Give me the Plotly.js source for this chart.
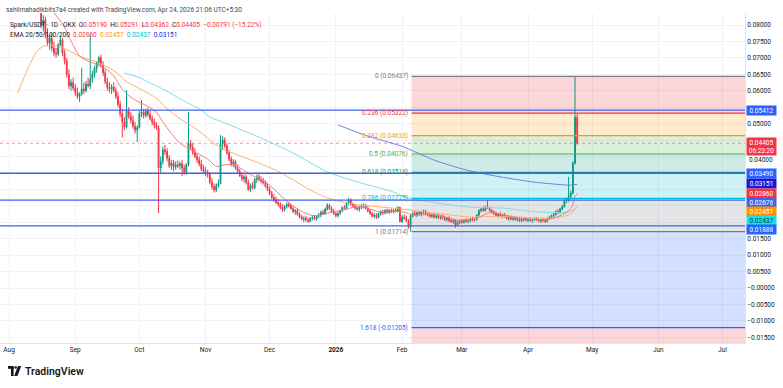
<!DOCTYPE html>
<html><head><meta charset="utf-8">
<script src="https://cdn.plot.ly/plotly-3.0.1.min.js"></script>
<style>html,body{margin:0;padding:0;background:#fff;}#chart{width:783px;height:388px;}</style>
</head><body><div id="chart"></div>
<script>
// ---------------- DATA (prices in 1e-4 USDT) ----------------
const firstDay = '2025-07-26';
const O = [
 880,905,945,935,960,990,
 965,950,975,955,925,945,930,910,925,905,890,880,870,860,850,845,800,815,770,745,760,730,715,712,740,755,715,690,650,615,625,
 608,595,582,590,605,600,620,615,635,650,668,685,700,678,655,628,610,605,612,600,582,558,530,505,490,541,522,510,492,480,
 488,530,535,525,538,528,515,505,495,488,365,385,420,415,395,372,380,368,375,372,378,365,352,375,440,428,412,400,390,378,362,
 355,350,345,322,308,298,312,318,440,450,432,412,392,378,385,365,355,342,332,338,322,300,312,305,330,338,330,325,320,310,
 300,288,275,268,260,255,245,238,248,255,250,242,232,236,224,216,210,212,206,203,212,215,210,218,222,230,226,240,252,242,232,
 226,220,228,235,245,242,258,268,255,250,244,240,246,250,252,242,234,226,218,222,215,226,232,228,236,230,236,232,237,234,245,
 202,215,212,204,186,220,226,222,229,226,230,233,226,222,218,222,216,220,214,218,212,208,212,205,202,206,192,200,
 203,200,206,202,207,210,208,208,222,236,240,236,246,244,236,230,226,220,224,219,222,217,212,214,210,212,208,210,205,208,210,
 206,209,205,208,211,207,204,208,205,203,212,216,220,224,232,230,240,248,266,268,278,289,380,519
];
const H = [
 920,960,990,970,1010,1020,
 990,985,1000,980,960,970,955,940,950,930,920,905,895,880,870,850,830,825,790,770,775,750,730,745,765,760,725,700,665,635,640,
 620,610,595,670,625,630,640,770,660,675,690,705,710,690,665,640,625,620,625,610,595,570,545,520,602,550,535,525,505,495,
 540,572,545,545,548,540,525,515,505,495,400,430,435,425,405,390,390,385,388,385,390,375,380,535,450,440,425,410,400,390,375,
 368,360,352,335,318,318,330,465,462,458,440,420,400,392,390,375,362,352,345,345,330,318,322,335,345,350,340,335,328,318,
 308,295,285,278,270,262,255,252,260,262,255,248,240,242,230,222,218,220,214,215,220,222,222,228,235,238,245,258,256,248,240,
 232,230,238,248,252,262,275,272,260,256,250,250,255,258,256,248,240,232,228,228,230,236,238,240,242,240,242,240,244,248,248,
 222,224,220,210,224,232,234,232,236,234,238,238,232,228,226,228,224,226,222,224,218,216,218,212,210,210,205,208,
 210,210,212,210,214,216,214,225,240,245,248,250,268,248,240,236,232,228,230,226,228,222,218,220,216,218,214,215,212,213,216,
 212,214,211,214,216,212,210,213,211,214,220,224,228,236,240,244,252,270,274,338,296,385,643.7,529.1
];
const L = [
 860,890,920,900,940,950,
 930,920,940,910,900,915,895,885,895,875,865,855,845,840,838,790,780,760,735,725,720,705,700,705,735,705,680,640,605,600,600,
 585,575,566,585,590,595,610,605,625,640,655,675,670,645,620,600,595,590,595,575,550,520,458,480,485,515,500,485,470,444,
 485,520,515,518,520,510,495,485,480,228,350,375,405,385,365,360,355,360,365,360,340,345,345,370,420,405,395,380,370,355,348,
 340,335,315,300,290,292,305,315,420,425,405,385,370,368,360,350,338,325,320,315,295,292,300,300,320,325,318,315,305,295,
 282,270,262,255,248,240,232,232,242,245,238,228,222,220,212,205,200,202,198,200,205,206,205,212,215,222,222,235,238,228,222,
 215,215,222,230,238,238,252,250,245,238,235,232,240,242,238,230,222,215,212,210,212,220,222,224,226,225,228,226,230,230,200,
 198,208,200,180,171.4,214,218,216,222,218,224,222,218,214,212,212,210,210,208,208,204,202,200,198,195,183,188,194,
 196,196,198,197,200,203,202,205,218,230,232,232,240,232,226,222,216,214,216,212,214,208,204,206,204,205,202,200,200,202,204,
 200,202,199,203,204,200,198,201,198,200,208,210,214,220,225,226,236,244,258,262,272,285,375,436.2
];
const C = [
 905,945,935,960,990,965,
 950,975,955,925,945,930,910,925,905,890,880,870,860,850,845,800,815,770,745,760,730,715,712,740,755,715,690,650,615,625,608,
 595,582,590,605,600,620,615,635,650,668,685,700,678,655,628,610,605,612,600,582,558,530,505,490,541,522,510,492,480,488,
 530,535,525,538,528,515,505,495,488,365,385,420,415,395,372,380,368,375,372,378,365,352,375,440,428,412,400,390,378,362,355,
 350,345,322,308,298,312,318,440,450,432,412,392,378,385,365,355,342,332,338,322,300,312,305,330,338,330,325,320,310,300,
 288,275,268,260,255,245,238,248,255,250,242,232,236,224,216,210,212,206,203,212,215,210,218,222,230,226,240,252,242,232,226,
 220,228,235,245,242,258,268,255,250,244,240,246,250,252,242,234,226,218,222,215,226,232,228,236,230,236,232,237,234,245,202,
 215,212,204,186,220,226,222,229,226,230,233,226,222,218,222,216,220,214,218,212,208,212,205,202,206,192,200,203,
 200,206,202,207,210,208,208,222,236,240,236,246,244,236,230,226,220,224,219,222,217,212,214,210,212,208,210,205,208,210,206,
 209,205,208,211,207,204,208,205,203,212,216,220,224,232,230,240,248,266,268,278,289,380,519.6,440.5
];

// EMA lines (1e-4 units)
const ema20Dates = ['2025-08-14','2025-08-18','2025-08-22','2025-08-26','2025-08-30','2025-09-03','2025-09-07','2025-09-11','2025-09-15','2025-09-19','2025-09-23','2025-09-27','2025-10-01','2025-10-05','2025-10-09','2025-10-12','2025-10-16','2025-10-20','2025-10-24','2025-10-28','2025-11-02','2025-11-06','2025-11-10','2025-11-14','2025-11-18','2025-11-22','2025-11-26','2025-11-30','2025-12-04','2025-12-08','2025-12-12','2025-12-16','2025-12-20','2025-12-24','2025-12-28','2026-01-01','2026-01-05','2026-01-09','2026-01-13','2026-01-17','2026-01-21','2026-01-25','2026-01-29','2026-02-02','2026-02-06','2026-02-10','2026-02-14','2026-02-18','2026-02-22','2026-02-26','2026-03-02','2026-03-06','2026-03-10','2026-03-14','2026-03-18','2026-03-22','2026-03-26','2026-03-30','2026-04-03','2026-04-07','2026-04-11','2026-04-15','2026-04-19','2026-04-21','2026-04-22','2026-04-23','2026-04-24'];
const ema20Vals = [930,889,838,804,751,705,690,680,668,645,605,580,565,552,535,505,470,440,425,410,392,370,375,375,362,345,333,318,295,270,250,233,222,220,228,233,238,245,246,240,232,231,233,231,222,222,224,220,215,208,204,206,218,230,226,221,215,211,208,207,209,217,230,242,255,280,286];
const ema50Dates = ['2025-08-05','2025-08-08','2025-08-11','2025-08-14','2025-08-17','2025-08-20','2025-08-24','2025-08-28','2025-09-01','2025-09-05','2025-09-10','2025-09-15','2025-09-20','2025-09-25','2025-09-30','2025-10-05','2025-10-10','2025-10-13','2025-10-17','2025-10-21','2025-10-25','2025-10-30','2025-11-05','2025-11-10','2025-11-18','2025-11-26','2025-12-04','2025-12-12','2025-12-20','2025-12-28','2026-01-05','2026-01-13','2026-01-21','2026-01-28','2026-02-05','2026-02-12','2026-02-19','2026-02-26','2026-03-05','2026-03-12','2026-03-19','2026-03-26','2026-04-02','2026-04-09','2026-04-15','2026-04-20','2026-04-22','2026-04-23','2026-04-24'];
const ema50Vals = [593,640,684,720,735,739,735,725,712,700,690,675,657,628,610,593,572,551,530,511,495,472,440,420,400,380,358,329,298,274,260,252,247,243,237,231,226,220,216,217,218,216,214,212,215,222,230,242,245.7];
const ema100Dates = ['2025-09-24','2025-10-01','2025-10-05','2025-10-13','2025-10-21','2025-10-30','2025-11-03','2025-11-10','2025-11-26','2025-12-12','2025-12-28','2026-01-13','2026-01-28','2026-02-02','2026-02-17','2026-03-05','2026-03-20','2026-04-06','2026-04-20','2026-04-24'];
const ema100Vals = [654,640,627,602,572,541,520,502,459,411,353,319,292,277,259,246,243,231,231,243.7];
const ema200Dates = ['2026-01-02','2026-01-16','2026-02-01','2026-02-16','2026-03-03','2026-03-19','2026-04-04','2026-04-20','2026-04-24'];
const ema200Vals = [496,462,431,389,359,338,322,313,315.1];

// Fibonacci retracement (Feb 5 low -> Apr 23 high)
const fibRatios = ['0','0.236','0.382','0.5','0.618','0.786','1','1.618','2.618'];
const fibValues = [0.06437,0.05322,0.04633,0.04076,0.03518,0.02725,0.01714,-0.01205,-0.05928];
const fibStart = '2026-02-05 12:00';
// user horizontal levels
const hLevels = [0.05412,0.03490,0.02676,0.01888];
// right-scale price tags
const tagTexts = ['0.05412','0.04405<br>06:23:20','0.03490','0.03151','0.02860','0.02676','0.02457','0.02437','0.01888'];
// axis ticks (labels hidden behind the price tags are left empty)
const yTickVals = [-0.015,-0.01,-0.005,0,0.005,0.01,0.015,0.02,0.025,0.03,0.035,0.04,0.045,0.05,0.055,0.06,0.065,0.07,0.075,0.08];
const yTickText = ['\u22120.01500','\u22120.01000','\u22120.00500','\u22120.00000','0.00500','0.01000','0.01500','','','','','','','0.05000','','0.06000','0.06500','0.07000','0.07500','0.08000'];
const partialTick = '0.04000';
const xTickVals = ['2025-08-01','2025-09-01','2025-10-01','2025-11-01','2025-12-01','2026-01-01','2026-02-01','2026-03-01','2026-04-01','2026-05-01','2026-06-01','2026-07-01'];
const xTickText = ['Aug','Sep','Oct','Nov','Dec','<b>2026</b>','Feb','Mar','Apr','May','Jun','Jul'];

// ---------------- BUILD ----------------
const S = v => v / 10000;
const t0 = Date.parse(firstDay + 'T00:00:00Z');
const dates = O.map((_, i) => new Date(t0 + i * 86400000).toISOString().slice(0, 10));

const UP = '#089981', DN = '#f23645';
const traces = [
  {type:'candlestick', x:dates, open:O.map(S), high:H.map(S), low:L.map(S), close:C.map(S),
   increasing:{line:{color:UP,width:1},fillcolor:UP}, decreasing:{line:{color:DN,width:1},fillcolor:DN},
   whiskerwidth:0, hoverinfo:'none'},
  {type:'scatter', mode:'lines', x:ema100Dates, y:ema100Vals.map(S), line:{color:'#7fdbe8',width:1,shape:'spline',smoothing:0.6}, hoverinfo:'none'},
  {type:'scatter', mode:'lines', x:ema50Dates, y:ema50Vals.map(S), line:{color:'#f9b26a',width:1,shape:'spline',smoothing:0.6}, hoverinfo:'none'},
  {type:'scatter', mode:'lines', x:ema200Dates, y:ema200Vals.map(S), line:{color:'#7b7be6',width:1,shape:'spline',smoothing:0.6}, hoverinfo:'none'},
  {type:'scatter', mode:'lines', x:ema20Dates, y:ema20Vals.map(S), line:{color:'#f47a85',width:1,shape:'spline',smoothing:0.6}, hoverinfo:'none'}
];

const X0 = '2025-07-27 18:00', X1 = '2026-07-11 14:00';
const PL = 0, PT = 13, PW = 745, PH = 330;
const px = x => (x - PL) / PW;
const py = y => 1 - (y - PT) / PH;

const fibLine = ['#787b86','#f23645','#ff9800','#4caf50','#089981','#00bcd4','#787b86','#2962ff','#f23645'];
const fibFill = ['rgba(242,54,69,0.2)','rgba(255,152,0,0.2)','rgba(76,175,80,0.2)','rgba(8,153,129,0.2)','rgba(0,188,212,0.2)','rgba(120,123,134,0.2)','rgba(41,98,255,0.2)','rgba(242,54,69,0.2)'];

const shapes = [];
const annotations = [];
for (let i = 0; i < fibValues.length - 1; i++) {
  shapes.push({type:'rect', layer:'between', xref:'x', yref:'y', x0:fibStart, x1:X1, y0:fibValues[i+1], y1:fibValues[i], fillcolor:fibFill[i], line:{width:0}});
}
for (let i = 0; i < fibValues.length; i++) {
  shapes.push({type:'line', layer:'above', xref:'x', yref:'y', x0:fibStart, x1:X1, y0:fibValues[i], y1:fibValues[i], line:{color:fibLine[i], width:1.2}});
  if (i < fibValues.length - 1) {
    annotations.push({xref:'x', yref:'y', x:fibStart, y:fibValues[i], xanchor:'right', yanchor:'middle', xshift:-2, showarrow:false,
      text: fibRatios[i] + ' (' + fibValues[i].toFixed(5) + ')', font:{size:6.5, color:fibLine[i]}});
  }
}
// last price dotted line
shapes.push({type:'line', layer:'between', xref:'paper', yref:'y', x0:0, x1:1, y0:S(C[C.length-1]), y1:S(C[C.length-1]), line:{color:'rgba(242,54,69,0.55)', width:1, dash:'dot'}});
// horizontal user lines
hLevels.forEach(v => shapes.push({type:'line', layer:'above', xref:'paper', yref:'y', x0:0, x1:1, y0:v, y1:v, line:{color:'#3c64f0', width:1.3}}));

// right tags
const tagColors = ['#2962ff','#f23645','#2962ff','#1a1ad6','#f23645','#3d66ee','#ff8f00','#16e0ee','#2962ff'];
const tagFont = ['#fff','#fff','#fff','#fff','#fff','#fff','#fff','#063c44','#fff'];
const tagY = [110,146.5,173,183.5,193,202.5,211.5,220.5,229.5];
tagTexts.forEach((t, i) => annotations.push({xref:'paper', yref:'paper', x:1, y:py(tagY[i]), xanchor:'left', yanchor:'middle', xshift:1,
  showarrow:false, text:t, bgcolor:tagColors[i], borderpad:0.5, width:28, align:'center', font:{size:6.5, color:tagFont[i]}}));
// 0.04000 scale label peeking below the red tag
annotations.push({xref:'paper', yref:'paper', x:1, y:py(159.5), xanchor:'left', yanchor:'middle', xshift:2, showarrow:false,
  text:partialTick, font:{size:6.5, color:'#131722'}});

// header texts
const hdrFont = {size:6.5, color:'#131722', family:'Roboto, "Liberation Sans", sans-serif'};
annotations.push({xref:'paper', yref:'paper', x:px(4), y:py(10), xanchor:'left', yanchor:'middle', showarrow:false,
  text:'sahilmahadikbits7a4 created with TradingView.com, Apr 24, 2026 21:06 UTC+5:30', font:{size:6.5, color:'#434651'}});
const R = s => '<span style="color:#f23645">' + s + '</span>';
annotations.push({xref:'paper', yref:'paper', x:px(8), y:py(25.5), xanchor:'left', yanchor:'middle', showarrow:false,
  text:'Spark/USDT · 1D · OKX  O' + R('0.05190') + '  H' + R('0.05291') + '  L' + R('0.04362') + '  C' + R('0.04405') + '  ' + R('\u22120.00791 (\u221215.22%)'), font:hdrFont});
annotations.push({xref:'paper', yref:'paper', x:px(8), y:py(34.5), xanchor:'left', yanchor:'middle', showarrow:false,
  text:'EMA 20/50/100/200  <span style="color:#f23645">0.02860</span>  <span style="color:#ff9800">0.02457</span>  <span style="color:#00bcd4">0.02437</span>  <span style="color:#2424d6">0.03151</span>', font:hdrFont});

// TradingView logo
const LOGO = '#131722';
shapes.push({type:'rect', xref:'paper', yref:'paper', x0:px(8), x1:px(13.6), y0:py(368.8), y1:py(366), fillcolor:LOGO, line:{width:0}});
shapes.push({type:'rect', xref:'paper', yref:'paper', x0:px(11), x1:px(13.6), y0:py(376), y1:py(366), fillcolor:LOGO, line:{width:0}});
shapes.push({type:'circle', xref:'paper', yref:'paper', x0:px(14.4), x1:px(17), y0:py(368.8), y1:py(366.2), fillcolor:LOGO, line:{width:0}});
shapes.push({type:'path', xref:'paper', yref:'paper', path:'M '+px(18)+' '+py(366)+' L '+px(21.2)+' '+py(366)+' L '+px(17.4)+' '+py(376)+' L '+px(14.2)+' '+py(376)+' Z', fillcolor:LOGO, line:{width:0}});
annotations.push({xref:'paper', yref:'paper', x:px(22.5), y:py(371), xanchor:'left', yanchor:'middle', showarrow:false,
  text:'TradingView', font:{size:10.5, color:LOGO, family:'Roboto, sans-serif', weight:600}});

const layout = {
  width:783, height:388, margin:{l:PL, r:783-PL-PW, t:PT, b:388-PT-PH},
  paper_bgcolor:'#fff', plot_bgcolor:'#fff', showlegend:false, boxgap:0.45,
  font:{family:'Roboto, "Liberation Sans", sans-serif', size:6.5, color:'#131722'},
  xaxis:{type:'date', range:[X0, X1], rangeslider:{visible:false}, tickvals:xTickVals, ticktext:xTickText,
    showgrid:true, gridcolor:'#f1f2f6', zeroline:false, showline:true, linecolor:'#e0e3eb', ticks:'', fixedrange:true,
    tickfont:{size:6.5, color:'#131722'}},
  yaxis:{side:'right', range:[-0.01673, 0.08365], tickvals:yTickVals, ticktext:yTickText,
    showgrid:true, gridcolor:'#f1f2f6', zeroline:false, showline:true, linecolor:'#e0e3eb', ticks:'', fixedrange:true,
    tickfont:{size:6.5, color:'#131722'}},
  shapes:shapes, annotations:annotations, hovermode:false
};
Plotly.newPlot('chart', traces, layout, {staticPlot:true, displayModeBar:false});
</script></body></html>
